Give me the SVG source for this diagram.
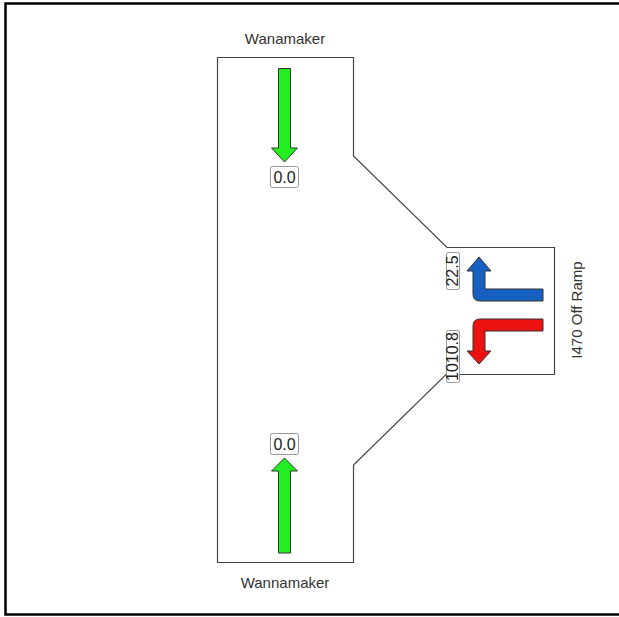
<svg xmlns="http://www.w3.org/2000/svg" width="619" height="617" viewBox="0 0 619 617">
<style>
.lbl{font-family:"Liberation Sans",Arial,sans-serif;font-size:15px;fill:#333}
.num{font-family:"Liberation Sans",Arial,sans-serif;font-size:16px;fill:#222}
.nbox{fill:#fff;stroke:#999;stroke-width:1}
.arr{stroke:#333;stroke-width:1;stroke-linejoin:miter}
</style>
<rect x="0" y="0" width="619" height="617" fill="#fff"/>
<rect x="5.5" y="3.5" width="630" height="611" fill="none" stroke="#000" stroke-width="2.5"/>
<g id="outline">
<polygon points="217.5,57.5 353.5,57.5 353.5,156 447,247.5 554.5,247.5 554.5,374.5 446,374.5 353.5,465 353.5,562.5 217.5,562.5" fill="none" stroke="#444" stroke-width="1.2"/>
</g>
<g id="n-north">
<text class="lbl" x="285" y="44" text-anchor="middle">Wanamaker</text>
<polygon class="arr" fill="#22ee22" points="278.5,68.5 290.5,68.5 290.5,148 297.5,148 284.5,162 271.5,148 278.5,148"/>
<rect class="nbox" x="270.5" y="166.5" width="28" height="21" rx="2"/>
<text class="num" x="284.5" y="183" text-anchor="middle">0.0</text>
</g>
<g id="n-south">
<text class="lbl" x="285" y="588" text-anchor="middle">Wannamaker</text>
<polygon class="arr" fill="#22ee22" points="278.5,553 290.5,553 290.5,471 297.5,471 284.5,458 271.5,471 278.5,471"/>
<rect class="nbox" x="270.5" y="433.5" width="28" height="21" rx="2"/>
<text class="num" x="284.5" y="450" text-anchor="middle">0.0</text>
</g>
<g id="n-ramp">
<text class="lbl" transform="translate(582,310) rotate(-90)" text-anchor="middle">I470 Off Ramp</text>
<path class="arr" fill="#1560c0" d="M543,289 L543,301 L480,301 Q473,301 473,294 L473,271 L467,271 L479,257 L491,271 L485,271 L485,289 Z"/>
<path class="arr" fill="#ee1111" d="M543,319 L543,331 L485,331 L485,351 L491,351 L479,364 L467,351 L473,351 L473,326 Q473,319 480,319 Z"/>
<rect class="nbox" x="446.5" y="252.5" width="13" height="37" rx="2"/>
<text class="num" transform="translate(458,271) rotate(-90)" text-anchor="middle">22.5</text>
<rect class="nbox" x="446.5" y="330.5" width="13" height="52" rx="2"/>
<text class="num" transform="translate(458,356.5) rotate(-90)" text-anchor="middle">1010.8</text>
</g>
<g id="connectors"></g>
</svg>
